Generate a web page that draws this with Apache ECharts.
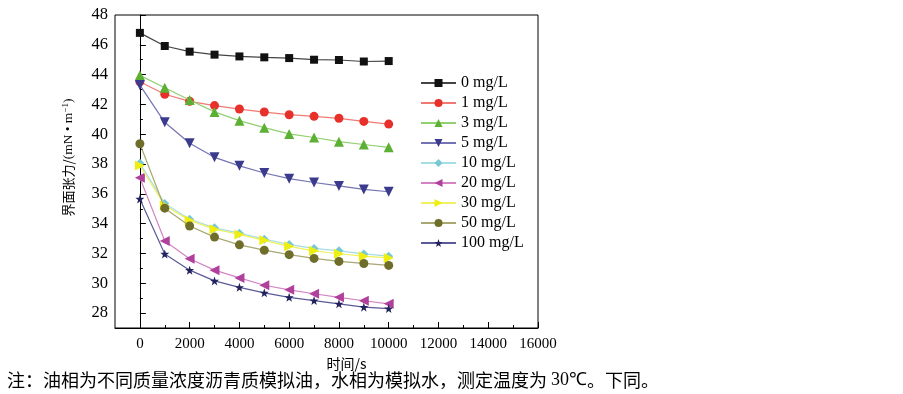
<!DOCTYPE html>
<html>
<head>
<meta charset="utf-8">
<script src="https://cdn.jsdelivr.net/npm/echarts@6/dist/echarts.min.js"></script>
<style>
  html, body { margin: 0; padding: 0; background: #fff; }
  #chart { width: 903px; height: 394px; }
</style>
</head>
<body>
<div id="chart"></div>
<script>
// time points (s)
const times = [0, 1000, 2000, 3000, 4000, 5000, 6000, 7000, 8000, 9000, 10000]

// interfacial tension, mN/m
const c0 = [46.8, 45.92, 45.54, 45.34, 45.22, 45.16, 45.11, 45.0, 44.98, 44.88, 44.91]
const c1 = [43.52, 42.68, 42.21, 41.92, 41.69, 41.49, 41.31, 41.2, 41.07, 40.86, 40.68]
const c3 = [43.95, 43.12, 42.3, 41.5, 40.91, 40.44, 40.02, 39.78, 39.5, 39.31, 39.12]
const c5 = [43.3, 40.8, 39.4, 38.45, 37.88, 37.4, 37.02, 36.76, 36.53, 36.3, 36.14]
const c10 = [38.05, 35.36, 34.3, 33.72, 33.36, 32.96, 32.6, 32.34, 32.18, 31.97, 31.82]
const c20 = [37.08, 32.84, 31.65, 30.88, 30.36, 29.87, 29.56, 29.3, 29.06, 28.83, 28.62]
const c30 = [37.9, 35.22, 34.22, 33.63, 33.28, 32.88, 32.48, 32.18, 31.98, 31.82, 31.7]
const c50 = [39.36, 35.04, 33.84, 33.1, 32.58, 32.22, 31.92, 31.67, 31.47, 31.33, 31.2]
const c100 = [35.66, 31.97, 30.88, 30.16, 29.73, 29.36, 29.06, 28.84, 28.62, 28.4, 28.3]

const seriesNames = ['0 mg/L', '1 mg/L', '3 mg/L', '5 mg/L', '10 mg/L', '20 mg/L', '30 mg/L', '50 mg/L', '100 mg/L']
const seriesData = [c0, c1, c3, c5, c10, c20, c30, c50, c100]

// axis ticks
const xMajor = [0, 2000, 4000, 6000, 8000, 10000, 12000, 14000, 16000]
const xMinor = [1000, 3000, 5000, 7000, 9000, 11000, 13000, 15000]
const yMajor = [28, 30, 32, 34, 36, 38, 40, 42, 44, 46, 48]
const yMinor = [29, 31, 33, 35, 37, 39, 41, 43, 45, 47]

const starPath = 'path://M0,-10L2.35,-3.24L9.51,-3.09L3.8,1.24L5.88,8.09L0,4L-5.88,8.09L-3.8,1.24L-9.51,-3.09L-2.35,-3.24Z'

const styles = [
    { symbol: 'rect', size: 8, rotate: 0, color: '#111111', line: '#444444' },
    { symbol: 'circle', size: 9, rotate: 0, color: '#e8302a', line: '#f07a72' },
    { symbol: 'triangle', size: 10, rotate: 0, color: '#5cb033', line: '#90d070' },
    { symbol: 'triangle', size: 10, rotate: 180, color: '#3b3b8e', line: '#7474b4' },
    { symbol: 'diamond', size: 9, rotate: 0, color: '#78c8d4', line: '#a4dde6' },
    { symbol: 'triangle', size: 10, rotate: 90, color: '#b0409c', line: '#d484c4' },
    { symbol: 'triangle', size: 10, rotate: -90, color: '#eeee10', line: '#f0f060' },
    { symbol: 'circle', size: 9, rotate: 0, color: '#6e6e2a', line: '#a8a870' },
    { symbol: starPath, size: 9, rotate: 0, color: '#22225e', line: '#5a5a98' },
]

const serif = '"Liberation Serif", "Times New Roman", serif'
const cjk = '"Noto Sans CJK SC", sans-serif'

const chart = echarts.init(document.getElementById('chart'))

const series = seriesData.map((vals, i) => ({
    name: seriesNames[i],
    type: 'line',
    xAxisIndex: 0,
    yAxisIndex: 0,
    data: times.map((t, j) => [t, vals[j]]),
    symbol: styles[i].symbol,
    symbolSize: styles[i].size,
    symbolRotate: styles[i].rotate,
    showAllSymbol: true,
    itemStyle: { color: styles[i].color },
    lineStyle: { color: styles[i].line, width: 1.2 },
    z: 2 + i,
}))

chart.setOption({
    animation: false,
    backgroundColor: '#fff',
    grid: {
        left: 115,
        right: 365,
        top: 15,
        bottom: 66,
        show: true,
        borderColor: '#000',
        borderWidth: 1,
        backgroundColor: 'transparent',
    },
    legend: {
        orient: 'vertical',
        left: 415,
        top: 70,
        itemWidth: 35,
        itemHeight: 10,
        itemGap: 4,
        data: seriesNames,
        textStyle: { fontFamily: serif, fontSize: 16, color: '#000', lineHeight: 16 },
    },
    xAxis: [
        {
            type: 'value',
            min: -1000,
            max: 16000,
            name: '时间/s',
            nameLocation: 'middle',
            nameGap: 22,
            nameTextStyle: { fontFamily: cjk, fontSize: 14, color: '#000', padding: [0, 0, 0, 40] },
            axisLine: { show: true, lineStyle: { color: '#000', width: 1 } },
            axisTick: { show: true, inside: true, length: 6, customValues: xMajor, lineStyle: { color: '#000' } },
            axisLabel: {
                customValues: xMajor,
                formatter: (v) => String(v),
                fontFamily: serif,
                fontSize: 15,
                color: '#000',
                margin: 9,
            },
            splitLine: { show: false },
        },
        {
            type: 'value',
            min: -1000,
            max: 16000,
            position: 'bottom',
            axisLine: { show: false },
            axisTick: { show: true, inside: true, length: 3, customValues: xMinor, lineStyle: { color: '#000' } },
            axisLabel: { show: false },
            splitLine: { show: false },
        },
    ],
    yAxis: [
        {
            type: 'value',
            min: 27,
            max: 48,
            name: '{c|界面张力/}{s|(mN • m}{sup|−1}{s|)}',
            nameLocation: 'middle',
            nameGap: 39,
            nameRotate: 90,
            nameTextStyle: {
                color: '#000',
                padding: [0, 0, 0, 28],
                rich: {
                    c: { fontFamily: cjk, fontSize: 13, color: '#000' },
                    s: { fontFamily: serif, fontSize: 13.5, color: '#000' },
                    sup: { fontFamily: serif, fontSize: 9, color: '#000', verticalAlign: 'top', padding: [0, 0, 6, 0] },
                },
            },
            axisLine: { show: true, lineStyle: { color: '#000', width: 1 } },
            axisTick: { show: true, inside: true, length: 6, customValues: yMajor, lineStyle: { color: '#000' } },
            axisLabel: { customValues: yMajor, fontFamily: serif, fontSize: 16.5, color: '#000', margin: 7 },
            splitLine: { show: false },
        },
        {
            type: 'value',
            min: 27,
            max: 48,
            position: 'left',
            axisLine: { show: false },
            axisTick: { show: true, inside: true, length: 3, customValues: yMinor, lineStyle: { color: '#000' } },
            axisLabel: { show: false },
            splitLine: { show: false },
        },
    ],
    graphic: [
        {
            type: 'text',
            left: 7,
            top: 371,
            style: {
                text: '{c|注：油相为不同质量浓度沥青质模拟油，水相为模拟水，测定温度为 }{s|30℃}{c|。下同。}',
                rich: {
                    c: { fontFamily: cjk, fontSize: 18, fill: '#000' },
                    s: { fontFamily: serif, fontSize: 18, fill: '#000' },
                },
            },
        },
    ],
    series: series,
})
</script>
</body>
</html>
